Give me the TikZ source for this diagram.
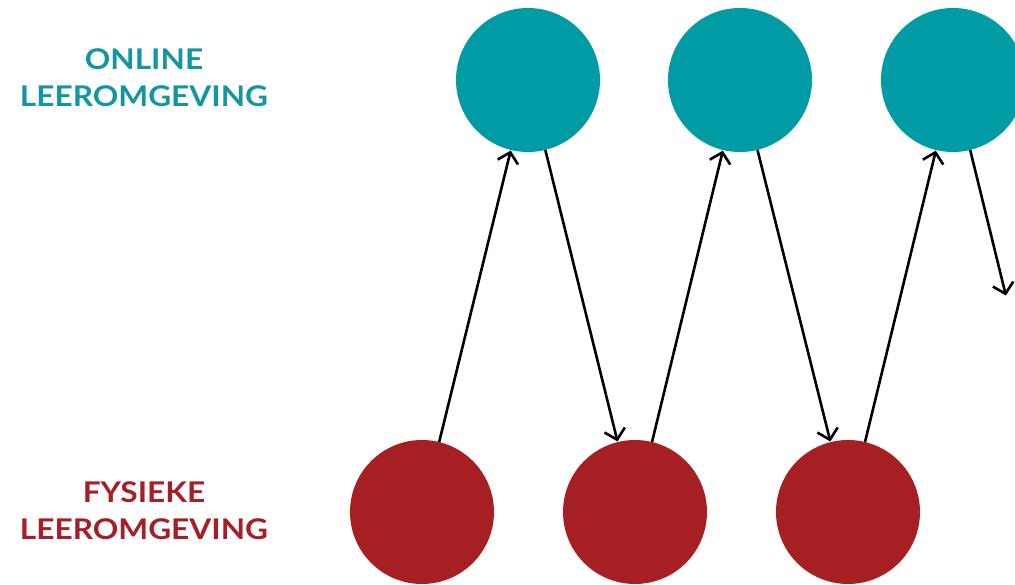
\documentclass[tikz,border=0pt]{standalone}
\usepackage{fontspec}
\setmainfont{Lato}
\usetikzlibrary{arrows.meta}
\definecolor{tealc}{RGB}{0,155,165}
\definecolor{redc}{RGB}{166,31,35}
\definecolor{tealt}{RGB}{20,150,160}
\definecolor{redt}{RGB}{166,31,40}
\tikzset{
  online/.style={circle,fill=tealc,draw=none,minimum size=144pt,inner sep=0pt},
  fysiek/.style={circle,fill=redc,draw=none,minimum size=144pt,inner sep=0pt},
  flow/.style={line width=2.6pt,-{Straight Barb[length=10pt,width=21pt,line width=2.6pt]},shorten >=0.5pt},
  lbl/.style={font=\fontsize{28.5}{37}\selectfont\bfseries,inner sep=0pt}
}
\newcommand{\twoline}[2]{\scalebox{1.11}[1]{\begin{tabular}{@{}c@{}}#1\\#2\end{tabular}}}
\begin{document}
\begin{tikzpicture}[x=1pt,y=-1pt]
\clip (0,0) rectangle (1015,584);
\useasboundingbox (0,0) rectangle (1015,584);
\node[lbl,text=tealt] (lon) at (144,81) {\twoline{ONLINE}{LEEROMGEVING}};
\node[lbl,text=redt] (lfy) at (144,514) {\twoline{FYSIEKE}{LEEROMGEVING}};
\node[online] (t1) at (528,80) {};
\node[online] (t2) at (740,80) {};
\node[online] (t3) at (953,80) {};
\node[fysiek] (r1) at (422,512) {};
\node[fysiek] (r2) at (635,512) {};
\node[fysiek] (r3) at (848,512) {};
\coordinate (end) at (1006,296);
\draw[flow] (r1) -- (t1);
\draw[flow] (t1) -- (r2);
\draw[flow] (r2) -- (t2);
\draw[flow] (t2) -- (r3);
\draw[flow] (r3) -- (t3);
\draw[flow] (t3) -- (end);
\end{tikzpicture}
\end{document}
